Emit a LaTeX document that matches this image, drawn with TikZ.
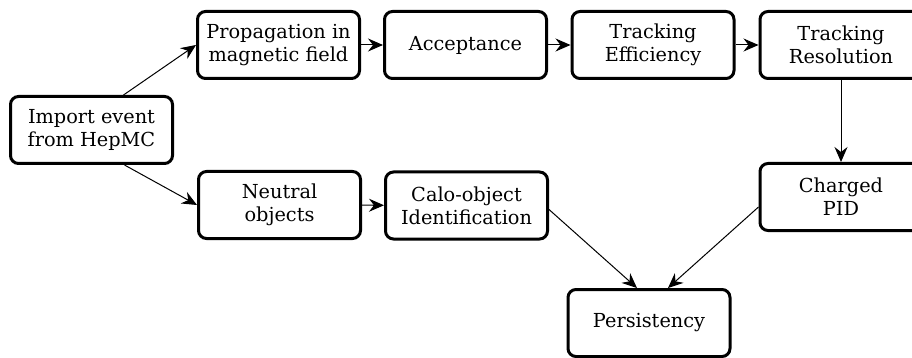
\documentclass[tikz,border=0pt]{standalone}
\usepackage{fontspec}
\setmainfont{DejaVu Serif}
\usetikzlibrary{arrows.meta}

\begin{document}
\begin{tikzpicture}[
  x=1pt, y=-1pt,
  stage/.style={draw, line width=3pt, rounded corners=8pt, fill=white, minimum width=162pt, minimum height=67pt, align=center, inner sep=2pt, font=\fontsize{19.3}{23}\selectfont},
  arr/.style={-{Stealth[length=15pt, width=13pt, inset=5pt]}, line width=1pt}
]
\useasboundingbox (0,0) rectangle (912,358);
% top row: charged particles
\node[stage] (imp) at (91.5,130) {Import event\\from HepMC};
\node[stage] (prop) at (278.5,45) {Propagation in\\magnetic field};
\node[stage] (acc) at (465.5,45) {Acceptance};
\node[stage] (eff) at (653,45) {Tracking\\Efficiency};
\node[stage] (res) at (841,45) {Tracking\\Resolution};
\node[stage] (pid) at (841,197) {Charged\\PID};
% bottom row: neutrals
\node[stage] (neu) at (279.5,205) {Neutral\\objects};
\node[stage] (calo) at (466.5,205.5) {Calo-object\\Identification};
\node[stage] (pers) at (649,323) {Persistency};

\draw[arr] ([xshift=32pt]imp.north) -- (prop.west);
\draw[arr] ([xshift=33pt]imp.south) -- (neu.west);
\draw[arr] (prop) -- (acc);
\draw[arr] (acc) -- (eff);
\draw[arr] (eff) -- (res);
\draw[arr] (res) -- (pid);
\draw[arr] (neu) -- (calo);
\draw[arr] ([yshift=-4pt]calo.east) -- ([xshift=-12pt]pers.north);
\draw[arr] ([yshift=-10pt]pid.west) -- ([xshift=19pt]pers.north);
\end{tikzpicture}
\end{document}
